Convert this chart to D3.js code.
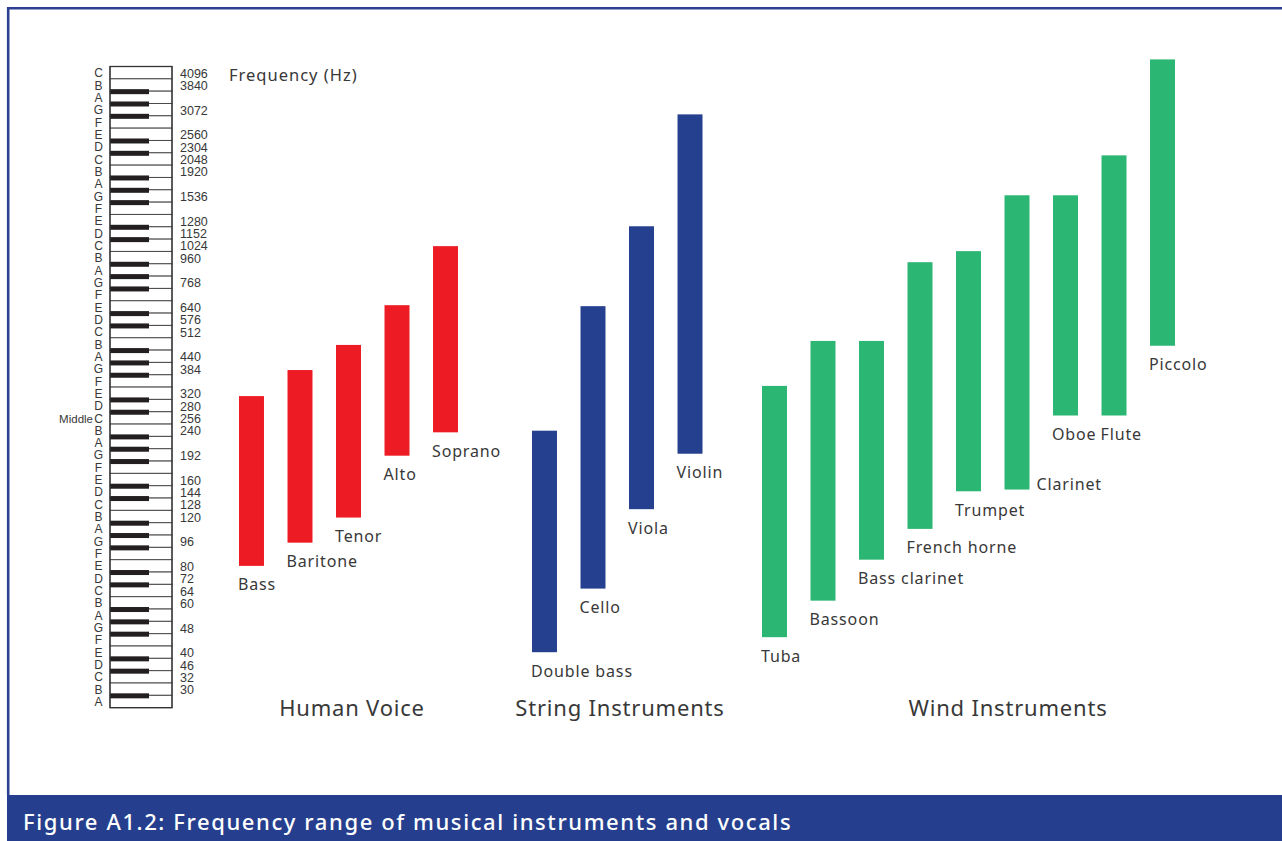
<!DOCTYPE html>
<html><head><meta charset="utf-8">
<script src="https://cdn.jsdelivr.net/npm/d3@7"></script>
<style>html,body{margin:0;padding:0;background:#fff;overflow:hidden}</style>
</head><body><svg id="c" width="1282" height="841"></svg>
<script>
// ---- data ----
const whiteKeys = ["C","B","A","G","F","E","D","C","B","A","G","F","E","D","C","B","A","G","F","E","D","C","B","A","G","F","E","D","C","B","A","G","F","E","D","C","B","A","G","F","E","D","C","B","A","G","F","E","D","C","B","A"];
const freqLabels = ["4096","3840","","3072","","2560","2304","2048","1920","","1536","","1280","1152","1024","960","","768","","640","576","512","","440","384","","320","280","256","240","","192","","160","144","128","120","","96","","80","72","64","60","","48","","40","46","32","30",""];
const middleLabel = "Middle";
const middleKeyIndex = 28;

const humanVoice = ["Bass","Baritone","Tenor","Alto","Soprano"];
const humanLow   = [78, 94, 115, 189, 228];
const humanHigh  = [305, 376, 460, 633, 1017];

const strings     = ["Double bass","Cello","Viola","Violin"];
const stringsLow  = [39, 65, 123, 192];
const stringsHigh = [231, 628, 1193, 2930];

const winds     = ["Tuba","Bassoon","Bass clarinet","French horne","Trumpet","Clarinet","Oboe","Flute","Piccolo"];
const windsLow  = [44, 59, 82, 105, 142, 144, 261, 261, 457];
const windsHigh = [331, 475, 475, 894, 977, 1530, 1530, 2108, 4556];

const groupTitles = ["Human Voice","String Instruments","Wind Instruments"];
const axisTitle = "Frequency (Hz)";
const caption = "Figure A1.2: Frequency range of musical instruments and vocals";

// ---- layout ----
const W = 1282, H = 841;
const kbX = 110, kbW = 62, kbTop = 66.5, keyH = 12.33, blackW = 39, blackH = 5;
const FONT = "'Noto Sans', 'Open Sans', sans-serif";
const NARROW = "'Liberation Sans Narrow', 'Liberation Sans', Arial, sans-serif";
const TXT = "#383838";
const groups = [
  {names: humanVoice, low: humanLow, high: humanHigh, color: "#ed1c24", range: [239, 458], titleX: 352},
  {names: strings, low: stringsLow, high: stringsHigh, color: "#25408f", range: [532, 702.5], titleX: 620},
  {names: winds, low: windsLow, high: windsHigh, color: "#2bb673", range: [762, 1175], titleX: 1008}
];

const svg = d3.select("#c");
svg.append("rect").attr("width", W).attr("height", H).attr("fill", "#fff");

// frame
svg.append("path").attr("d", `M8.2,795 V8.2 H${W+5}`).attr("fill","none")
  .attr("stroke", "#2d4190").attr("stroke-width", 2.6);

// keyboard scale (white keys)
const keyScale = d3.scaleBand().domain(d3.range(whiteKeys.length))
  .range([kbTop, kbTop + keyH * whiteKeys.length]);
// frequency scale (log) aligned with the outer C keys
const cTop = whiteKeys.indexOf("C"), cBot = whiteKeys.lastIndexOf("C");
const y = d3.scaleLog().domain([+freqLabels[cBot], +freqLabels[cTop]])
  .range([keyScale(cBot) + keyH/2, keyScale(cTop) + keyH/2]);

const kb = svg.append("g");
kb.selectAll("rect.white").data(whiteKeys).join("rect")
  .attr("x", kbX).attr("y", (d,i) => keyScale(i)).attr("width", kbW).attr("height", keyH)
  .attr("fill", "#fff").attr("stroke", "#4a4a4a").attr("stroke-width", 1);
// black keys between adjacent white keys except B/C and E/F
const blacks = [];
for (let i = 1; i < whiteKeys.length; i++) {
  const up = whiteKeys[i-1], lo = whiteKeys[i];
  if (!((up === "C" && lo === "B") || (up === "F" && lo === "E"))) blacks.push(i);
}
kb.selectAll("rect.black").data(blacks).join("rect")
  .attr("x", kbX).attr("y", i => keyScale(i) - blackH/2 + 0.5)
  .attr("width", blackW).attr("height", blackH).attr("fill", "#231f20");
kb.append("rect").attr("x", kbX).attr("y", kbTop).attr("width", kbW)
  .attr("height", keyH * whiteKeys.length).attr("fill", "none")
  .attr("stroke", "#333").attr("stroke-width", 1.3);

kb.selectAll("text.note").data(whiteKeys).join("text")
  .attr("x", 98.5).attr("y", (d,i) => keyScale(i) + keyH/2 + 4.6)
  .attr("text-anchor", "middle").attr("font-family", NARROW).attr("font-size", 12)
  .attr("fill", TXT).text(d => d);
kb.selectAll("text.freq").data(freqLabels).join("text")
  .attr("x", 180).attr("y", (d,i) => keyScale(i) + keyH/2 + 5)
  .attr("font-family", NARROW).attr("font-size", 12.5)
  .attr("fill", TXT).text(d => d);
kb.append("text").attr("x", 93).attr("y", keyScale(middleKeyIndex) + keyH/2 + 4.6)
  .attr("text-anchor", "end").attr("font-family", NARROW).attr("font-size", 11.5)
  .attr("fill", TXT).text(middleLabel);

svg.append("text").attr("x", 229).attr("y", 80.5).attr("font-family", FONT)
  .attr("font-size", 16.5).attr("letter-spacing", 1).attr("fill", TXT).text(axisTitle);

// bars
groups.forEach((g, gi) => {
  const x = d3.scaleBand().domain(g.names).range(g.range).paddingInner(0.485);
  const data = g.names.map((n, i) => ({name: n, low: g.low[i], high: g.high[i]}));
  const gg = svg.append("g");
  gg.selectAll("rect").data(data).join("rect")
    .attr("x", d => x(d.name)).attr("width", x.bandwidth())
    .attr("y", d => y(d.high)).attr("height", d => y(d.low) - y(d.high))
    .attr("fill", g.color);
  gg.selectAll("text").data(data).join("text")
    .attr("x", d => d.name === "Clarinet" ? x(d.name) + x.bandwidth() + 7 : x(d.name) - 1)
    .attr("y", d => d.name === "Clarinet" ? y(d.low) : y(d.low) + 24.5)
    .attr("font-family", FONT).attr("font-size", 16).attr("letter-spacing", 0.85)
    .attr("fill", TXT).text(d => d.name);
  svg.append("text").attr("x", g.titleX).attr("y", 716).attr("text-anchor", "middle")
    .attr("font-family", FONT).attr("font-size", 22).attr("letter-spacing", 0.8)
    .attr("fill", TXT).text(groupTitles[gi]);
});

// caption band
svg.append("rect").attr("x", 7).attr("y", 795).attr("width", W - 7).attr("height", H - 795)
  .attr("fill", "#253f8e");
svg.append("text").attr("x", 23).attr("y", 830).attr("font-family", FONT)
  .attr("font-size", 22).attr("font-weight", 500).attr("letter-spacing", 1.6)
  .attr("fill", "#fff").text(caption);
</script></body></html>
